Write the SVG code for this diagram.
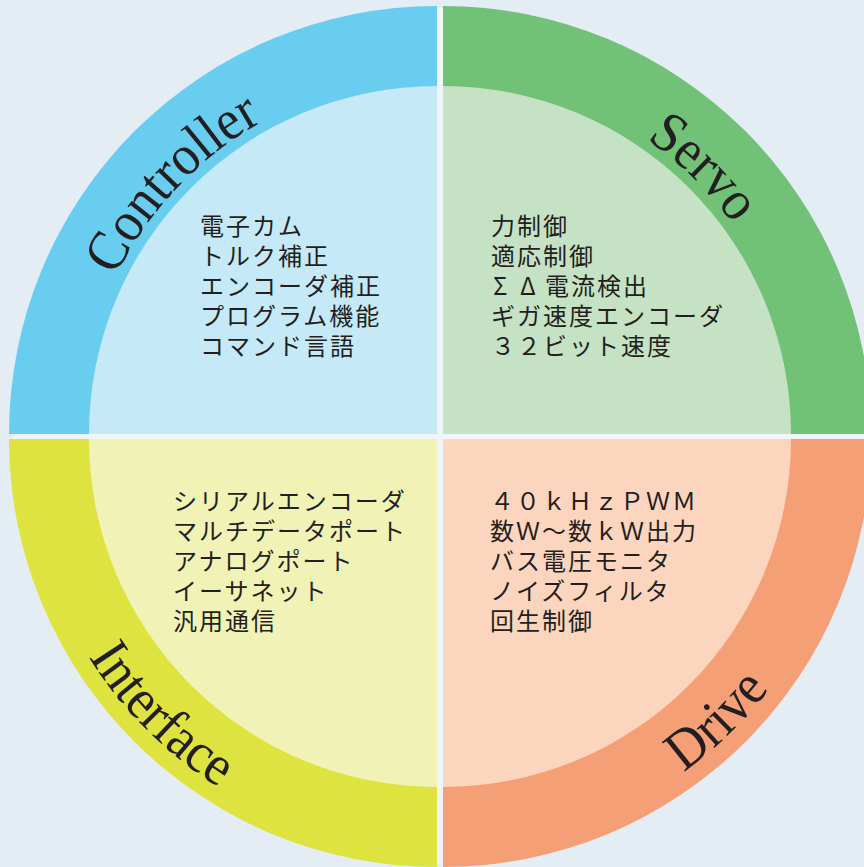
<svg xmlns="http://www.w3.org/2000/svg" width="864" height="867" viewBox="0 0 864 867">
<style>
.ring-title{font-family:"Liberation Serif","Times New Roman",serif;font-size:57px;fill:#231f20}
.item{font-family:"Noto Sans CJK JP","Noto Sans",sans-serif;font-size:24px;fill:#231f20;letter-spacing:2px}
</style>
<defs>
<path id="arcController" d="M79,434 A358,358 0 0 1 437,76"/>
<path id="arcServo" d="M443,76 A358,358 0 0 1 801,434"/>
<path id="arcInterface" d="M26,439 A411,411 0 0 0 437,850"/>
<path id="arcDrive" d="M443,850 A411,411 0 0 0 854,439"/>
</defs>
<rect width="864" height="867" fill="#e4edf4"/>
<circle cx="440" cy="436.5" r="428" fill="#f0f5fa"/>
<g id="controller">
<path d="M437,434 L9,434 A428,428 0 0 1 437,6 Z" fill="#69cdef"/>
<path d="M437,434 L89,434 A348,348 0 0 1 437,86 Z" fill="#c5e9f7"/>
<text class="ring-title"><textPath href="#arcController" startOffset="48.3%" text-anchor="middle" textLength="216" lengthAdjust="spacingAndGlyphs">Controller</textPath></text>
<text class="item" x="200" y="235">電子カム</text>
<text class="item" x="200" y="265">トルク補正</text>
<text class="item" x="200" y="295">エンコーダ補正</text>
<text class="item" x="200" y="325">プログラム機能</text>
<text class="item" x="200" y="355">コマンド言語</text>
</g>
<g id="servo">
<path d="M443,434 L443,6 A428,428 0 0 1 871,434 Z" fill="#71c277"/>
<path d="M443,434 L443,86 A348,348 0 0 1 791,434 Z" fill="#c5e2c4"/>
<text class="ring-title"><textPath href="#arcServo" startOffset="49.3%" text-anchor="middle" textLength="122" lengthAdjust="spacingAndGlyphs">Servo</textPath></text>
<text class="item" x="491" y="235">力制御</text>
<text class="item" x="491" y="265">適応制御</text>
<text class="item" y="295"><tspan x="493">Σ</tspan><tspan x="520">Δ</tspan><tspan x="545">電流検出</tspan></text>
<text class="item" x="491" y="325">ギガ速度エンコーダ</text>
<text class="item" x="491" y="355">３２ビット速度</text>
</g>
<g id="interface">
<path d="M437,439 L437,867 A428,428 0 0 1 9,439 Z" fill="#dee340"/>
<path d="M437,439 L437,787 A348,348 0 0 1 89,439 Z" fill="#f0f3b5"/>
<text class="ring-title"><textPath href="#arcInterface" startOffset="50%" text-anchor="middle" textLength="186" lengthAdjust="spacingAndGlyphs">Interface</textPath></text>
<text class="item" x="173" y="510">シリアルエンコーダ</text>
<text class="item" x="173" y="540">マルチデータポート</text>
<text class="item" x="173" y="570">アナログポート</text>
<text class="item" x="173" y="600">イーサネット</text>
<text class="item" x="173" y="630">汎用通信</text>
</g>
<g id="drive">
<path d="M443,439 L871,439 A428,428 0 0 1 443,867 Z" fill="#f59f76"/>
<path d="M443,439 L791,439 A348,348 0 0 1 443,787 Z" fill="#fcd5bf"/>
<text class="ring-title"><textPath href="#arcDrive" startOffset="49.1%" text-anchor="middle" textLength="120" lengthAdjust="spacingAndGlyphs">Drive</textPath></text>
<text class="item" x="490" y="510">４０ｋＨｚＰＷＭ</text>
<text class="item" x="490" y="540">数Ｗ～数ｋＷ出力</text>
<text class="item" x="490" y="570">バス電圧モニタ</text>
<text class="item" x="490" y="600">ノイズフィルタ</text>
<text class="item" x="490" y="630">回生制御</text>
</g>
<g id="connectors"></g>
</svg>
